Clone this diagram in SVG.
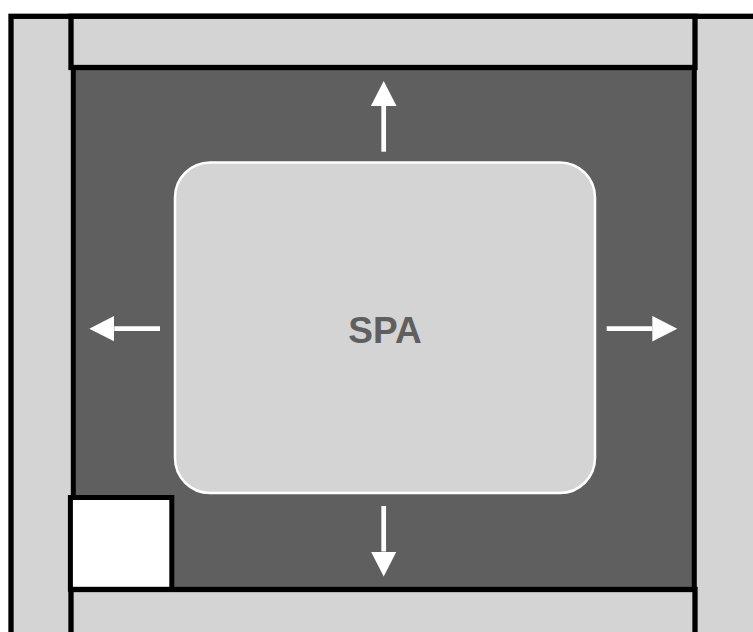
<svg xmlns="http://www.w3.org/2000/svg" width="753" height="632" viewBox="0 0 753 632">
  <style>
    .frame { fill: #d4d4d4; stroke: #000; stroke-width: 5.3; }
    .dark { fill: #5f5f5f; stroke: #000; stroke-width: 5; }
    .band { fill: #d4d4d4; stroke: #000; stroke-width: 5.3; }
    .spa { fill: #d4d4d4; stroke: #fff; stroke-width: 2.5; }
    .sq { fill: #fff; stroke: #000; stroke-width: 5; }
    .arrow { stroke: #fff; stroke-width: 4.7; fill: none; }
    .label { font-family: "Liberation Sans", Arial, sans-serif; font-weight: bold; font-size: 37px; fill: #5f5f5f; }
  </style>
  <defs>
    <marker id="head" markerUnits="userSpaceOnUse" markerWidth="26" markerHeight="26" refX="0" refY="12.8" orient="auto" viewBox="0 0 26 25.6">
      <path d="M0,0 L25,12.8 L0,25.6 z" fill="#fff"/>
    </marker>
  </defs>
  <rect width="753" height="632" fill="#fff"/>
  <g id="outer">
    <rect class="frame" x="11" y="16.3" width="760" height="640"/>
  </g>
  <g id="center-area">
    <rect class="dark" x="73.3" y="67.5" width="621" height="522"/>
  </g>
  <g id="top-band">
    <rect class="band" x="71" y="16.3" width="624" height="51.2"/>
  </g>
  <g id="bottom-band">
    <rect class="band" x="71" y="589.5" width="624" height="60"/>
  </g>
  <g id="corner-square">
    <rect class="sq" x="70.4" y="497.5" width="101.4" height="91.8"/>
  </g>
  <g id="spa">
    <rect class="spa" x="175" y="162.5" width="420" height="330.5" rx="35" ry="35"/>
    <text class="label" x="385" y="342.5" text-anchor="middle">SPA</text>
  </g>
  <g id="connectors">
    <line class="arrow" x1="383.7" y1="151.7" x2="383.7" y2="106" marker-end="url(#head)"/>
    <line class="arrow" x1="383.7" y1="506" x2="383.7" y2="551.5" marker-end="url(#head)"/>
    <line class="arrow" x1="606.7" y1="328.7" x2="652.3" y2="328.7" marker-end="url(#head)"/>
    <line class="arrow" x1="160" y1="328.7" x2="114.3" y2="328.7" marker-end="url(#head)"/>
  </g>
</svg>
